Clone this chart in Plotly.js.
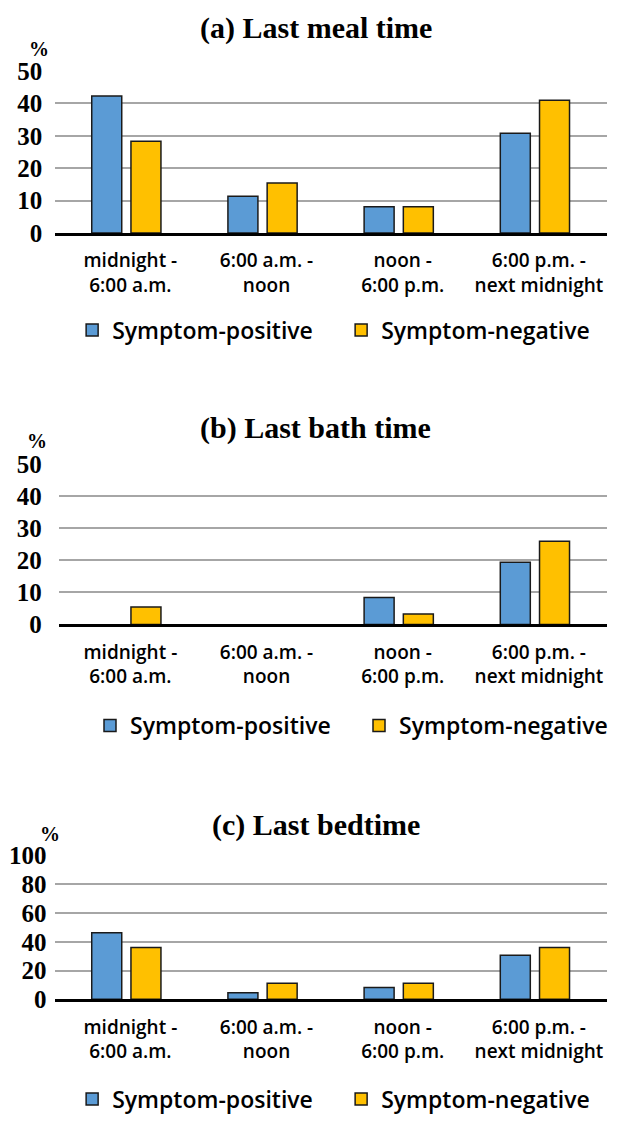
<!DOCTYPE html>
<html>
<head>
<meta charset="utf-8">
<script src="https://cdn.plot.ly/plotly-3.0.1.min.js"></script>
<style>
html,body{margin:0;padding:0;background:#fff;}
#chart{width:628px;height:1121px;}
</style>
</head>
<body>
<div id="chart"></div>
<script>
// ---- data ----
var categories = ['midnight -<br>6:00 a.m.', '6:00 a.m. -<br>noon', 'noon -<br>6:00 p.m.', '6:00 p.m. -<br>next midnight'];
var seriesNames = ['Symptom-positive', 'Symptom-negative'];
var panelTitles = ['(a) Last meal time', '(b) Last bath time', '(c) Last bedtime'];
var mealPositive = [42.3, 11.3, 8.1, 30.8];
var mealNegative = [28.3, 15.4, 8.1, 41.0];
var bathPositive = [0, 0, 8.4, 19.4];
var bathNegative = [5.4, 0, 3.2, 25.9];
var bedPositive = [46.4, 4.6, 8.2, 30.6];
var bedNegative = [36.1, 11.1, 11.1, 36.1];
var yMax = [50, 50, 100];
var yStep = [10, 10, 20];
var unitLabel = '%';

// ---- styling ----
var W = 628, H = 1121;
var blue = '#5B9BD5', yellow = '#FFC000', edge = '#1a1a1a';
var serif = 'Liberation Serif, Times New Roman, serif';
var sans = 'Open Sans, Noto Sans, sans-serif';

function py(px) { return 1 - px / H; }
function pxX(px) { return px / W; }

// put non-zero points first (axis order is fixed by categoryarray), so the
// legend symbol takes a visible outline; zero-height bars get no outline.
function barTrace(vals, name, color, xa, ya, legName) {
  var idx = vals.map(function (v, i) { return i; });
  var order = idx.filter(function (i) { return vals[i] !== 0; })
                 .concat(idx.filter(function (i) { return vals[i] === 0; }));
  return {
    type: 'bar', name: name,
    x: order.map(function (i) { return categories[i]; }),
    y: order.map(function (i) { return vals[i]; }),
    xaxis: xa, yaxis: ya, legend: legName,
    marker: {color: color, line: {color: edge,
      width: order.map(function (i) { return vals[i] === 0 ? 0 : 1.5; })}},
    hoverinfo: 'skip'
  };
}

var panels = [
  {pos: mealPositive, neg: mealNegative, y0: 235, yTop: 71.7, left: 57, title: 28, pct: [40, 49], legY: 333, legX: 74.5, standoff: 12},
  {pos: bathPositive, neg: bathNegative, y0: 630, yTop: 468.3, left: 60.7, title: 432, pct: [38, 445], legY: 732, legX: 93, standoff: 16},
  {pos: bedPositive, neg: bedNegative, y0: 1008.3, yTop: 863.3, left: 57.3, title: 832, pct: [52, 842], legY: 1109, legX: 74.5, standoff: 8}
];
var rightPx = 627;
var firstCenter = 130.5, spacing = 140.67;

var data = [];
var layout = {
  width: W, height: H, autosize: false,
  margin: {l: 0, r: 0, t: 0, b: 0},
  paper_bgcolor: '#fff', plot_bgcolor: 'rgba(0,0,0,0)',
  barmode: 'group', bargap: 0.424, bargroupgap: 0.235,
  annotations: [], showlegend: true
};

panels.forEach(function (p, i) {
  var n = i === 0 ? '' : String(i + 1);
  var legName = 'legend' + n;
  var xa = 'x' + n, ya = 'y' + n;
  data.push(barTrace(p.pos, seriesNames[0], blue, xa, ya, legName));
  data.push(barTrace(p.neg, seriesNames[1], yellow, xa, ya, legName));
  var left = (p.left - firstCenter) / spacing;
  var right = (rightPx - firstCenter) / spacing;
  layout['xaxis' + n] = {
    domain: [pxX(p.left), pxX(rightPx)], anchor: ya,
    type: 'category', categoryorder: 'array', categoryarray: categories,
    range: [left, right],
    showline: true, linecolor: '#000', linewidth: 2.6,
    showgrid: false, zeroline: false, ticks: '',
    tickfont: {family: sans, size: 19, color: '#000', weight: 600},
    ticklabelshift: 4, ticklabelstandoff: 9,
    fixedrange: true
  };
  layout['yaxis' + n] = {
    domain: [py(p.y0), py(p.yTop)], anchor: xa,
    range: [0, yMax[i]], dtick: yStep[i], tick0: 0,
    showgrid: true, gridcolor: '#A6A6A6', gridwidth: 2,
    zeroline: false, showline: false, ticks: '',
    tickfont: {family: serif, size: 25, color: '#000', weight: 'bold'},
    ticklabelstandoff: p.standoff,
    fixedrange: true
  };
  layout[legName] = {
    orientation: 'h', x: pxX(p.legX), xanchor: 'left',
    y: py(p.legY), yanchor: 'middle',
    bgcolor: 'rgba(0,0,0,0)', borderwidth: 0,
    entrywidth: 224, traceorder: 'normal',
    font: {family: sans, size: 23, color: '#000', weight: 600}
  };
  layout.annotations.push({
    xref: 'paper', yref: 'paper', x: pxX(326), y: py(p.title),
    xanchor: 'center', yanchor: 'middle', showarrow: false,
    text: panelTitles[i],
    font: {family: serif, size: 30, color: '#000', weight: 'bold'}
  });
  layout.annotations.push({
    xref: 'paper', yref: 'paper', x: pxX(p.pct[0]), y: py(p.pct[1]),
    xanchor: 'center', yanchor: 'middle', showarrow: false,
    text: unitLabel,
    font: {family: serif, size: 20, color: '#000', weight: 'bold'}
  });
});

Plotly.newPlot('chart', data, layout, {staticPlot: true, displayModeBar: false});
</script>
</body>
</html>
